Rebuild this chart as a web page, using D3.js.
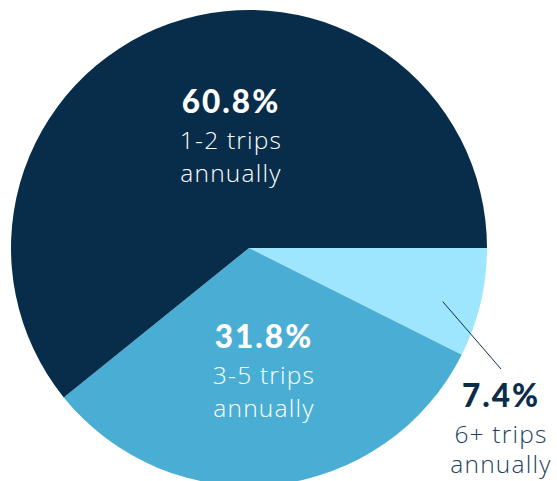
<!DOCTYPE html>
<html>
<head>
<meta charset="utf-8">
<script src="https://cdn.jsdelivr.net/npm/d3@7"></script>
<style>
  html, body { margin: 0; padding: 0; background: #ffffff; }
  svg { display: block; }
  .value { font-family: Lato, "Open Sans", "Noto Sans", sans-serif; }
  .desc { font-family: "Open Sans", Lato, "Noto Sans", sans-serif; }
</style>
</head>
<body>
<svg id="chart" width="557" height="481"></svg>
<script>
// Share of travellers by number of trips per year
const categories = ["6+ trips annually", "3-5 trips annually", "1-2 trips annually"];
const shares = [7.4, 31.8, 60.8];
const valueLabels = ["7.4%", "31.8%", "60.8%"];
const labelLines = [["6+ trips", "annually"], ["3-5 trips", "annually"], ["1-2 trips", "annually"]];
const colors = ["#9de6fd", "#4aaed4", "#082d4a"];

const width = 557, height = 481;
const cx = 249, cy = 248, radius = 238;

const svg = d3.select("#chart");
const g = svg.append("g").attr("transform", `translate(${cx},${cy})`);

const data = categories.map((c, i) => ({
  category: c, value: shares[i], label: valueLabels[i], lines: labelLines[i], color: colors[i]
}));

const pie = d3.pie()
  .sort(null)
  .value(d => d.value)
  .startAngle(Math.PI / 2)
  .endAngle(Math.PI / 2 + 2 * Math.PI);

const arc = d3.arc().innerRadius(0).outerRadius(radius);
const arcs = pie(data);

g.selectAll("path.slice")
  .data(arcs)
  .join("path")
  .attr("class", "slice")
  .attr("d", arc)
  .attr("fill", d => d.data.color);

// label placement: leader line anchor for the small slice, offsets from centre for the others
const labelLayout = [
  { outside: true, angle: 0.27, r: 201, tx: 501, ty: 407, gap: 30, valueFill: "#0b2d4a", textFill: "#1d3f5c" },
  { outside: false, dx: 15, dy: 100, gap: 33, valueFill: "#ffffff", textFill: "#ffffff" },
  { outside: false, dx: -18, dy: -135, gap: 33, valueFill: "#ffffff", textFill: "#ffffff" }
];

const polar = (a, r) => [Math.sin(a) * r, -Math.cos(a) * r];

arcs.forEach((d, i) => {
  const L = labelLayout[i];
  let x, y;
  if (L.outside) {
    const [px, py] = polar(d.startAngle + L.angle, L.r);
    g.append("line")
      .attr("x1", px).attr("y1", py)
      .attr("x2", L.tx - cx).attr("y2", L.ty - cy - 38)
      .attr("stroke", "#0b2d4a")
      .attr("stroke-width", 1);
    x = L.tx - cx; y = L.ty - cy;
  } else {
    x = L.dx; y = L.dy;
  }
  const t = g.append("text")
    .attr("text-anchor", "middle")
    .attr("x", x).attr("y", y);
  t.append("tspan")
    .attr("class", "value")
    .attr("x", x).attr("y", y)
    .attr("font-size", 31.5)
    .attr("font-weight", 900)
    .attr("letter-spacing", 2)
    .attr("fill", L.valueFill)
    .text(d.data.label);
  d.data.lines.forEach((line, j) => {
    t.append("tspan")
      .attr("class", "desc")
      .attr("x", x)
      .attr("y", y + 36 + j * L.gap)
      .attr("font-size", 24.5)
      .attr("font-weight", 300)
      .attr("letter-spacing", 1.2)
      .attr("fill", L.textFill)
      .text(line);
  });
});
</script>
</body>
</html>
